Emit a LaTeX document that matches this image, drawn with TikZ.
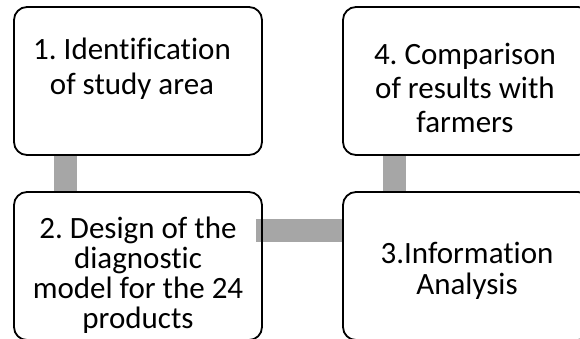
\documentclass[tikz,border=0pt]{standalone}
\usepackage{fontspec}
\setmainfont{Carlito}[Ligatures=NoCommon]
\frenchspacing
\usepackage{tikz}
\pgfdeclarelayer{bg}
\pgfsetlayers{bg,main}
\definecolor{linkgray}{HTML}{A6A6A6}
\tikzset{
        stepbox/.style={draw, line width=1.8pt, rounded corners=13pt, minimum width=248pt, minimum height=148pt, inner sep=0pt},
        steptext/.style={font=\fontsize{31pt}{#1}\selectfont, align=center, inner sep=0pt},
        link/.style={draw=linkgray, line width=23pt}
}
\begin{document}
\begin{tikzpicture}[x=1pt, y=-1pt]
        \clip (0,0) rectangle (580,338);
        \node (s1) [stepbox] at (138, 81) {};
        \node (s2) [stepbox] at (138, 266) {};
        \node (s3) [stepbox] at (467, 266) {};
        \node (s4) [stepbox] at (467, 81) {};
        \node (t1) [steptext=35pt] at (132, 69) {1. Identification\\of study area};
        \node (t2) [steptext=30pt] at (138, 275) {2. Design of the\\diagnostic\\model for the 24\\products};
        \node (t3) [steptext=31pt] at (467, 271) {3.Information\\Analysis};
        \node (t4) [steptext=34pt] at (465, 88) {4. Comparison\\of results with\\farmers};
        \begin{pgfonlayer}{bg}
                \draw [link] ([xshift=-72.5pt]s1.south) -- ([xshift=-72.5pt]s2.north);
                \draw [link] ([xshift=-7pt, yshift=35.5pt]s2.east) -- ([yshift=35.5pt]s3.west);
                \draw [link] ([xshift=-72.5pt]s4.south) -- ([xshift=-72.5pt]s3.north);
        \end{pgfonlayer}
\end{tikzpicture}
\end{document}
